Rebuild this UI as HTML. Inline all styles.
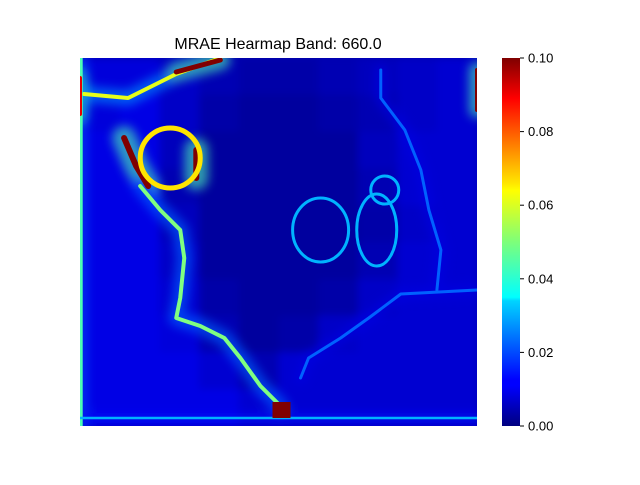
<!DOCTYPE html>
<html><head><meta charset="utf-8"><style>
body{margin:0;background:#fff;width:640px;height:480px;overflow:hidden;font-family:"Liberation Sans",sans-serif}
</style></head><body>
<svg id="chart" width="640" height="480">
<defs>
<filter id="soft"><feGaussianBlur stdDeviation="4"/></filter>
<filter id="glow"><feGaussianBlur stdDeviation="5"/></filter>
<clipPath id="clip"><rect x="80" y="58" width="397" height="368"/></clipPath>
<linearGradient id="jet" x1="0" y1="1" x2="0" y2="0">
<stop offset="0" stop-color="#00007f"/><stop offset="0.11" stop-color="#0000ff"/><stop offset="0.125" stop-color="#0000ff"/>
<stop offset="0.34" stop-color="#00d4ff"/><stop offset="0.35" stop-color="#0ff"/><stop offset="0.5" stop-color="#7dff7a"/>
<stop offset="0.64" stop-color="#ff0"/><stop offset="0.66" stop-color="#ffe600"/><stop offset="0.89" stop-color="#f00"/><stop offset="1" stop-color="#7f0000"/>
</linearGradient>
</defs>
<text x="278" y="49" text-anchor="middle" font-size="16">MRAE Hearmap Band: 660.0</text>
<g id="plot" clip-path="url(#clip)">
<rect x="80" y="58" width="397" height="368" fill="#0000b0"/>
<g id="bg" filter="url(#soft)"></g>
<g id="glows" filter="url(#glow)" opacity="0.6"></g>
<g id="curves"></g>
</g>
<rect x="502" y="58" width="18" height="368" fill="url(#jet)"/>
<g id="cbticks" font-size="13"></g>
</svg>
<script>
const bgGrid = [
[9,9,7,5,4,4,5,6,7,8],
[9,10,7,4,3,3,4,5,7,8],
[10,10,6,3,3,3,3,6,8,8],
[10,10,5,3,3,3,3,5,8,8],
[10,10,6,3,3,3,3,4,7,8],
[10,10,7,3,3,3,3,5,8,8],
[10,10,8,4,3,3,4,7,8,8],
[10,10,9,5,3,4,7,8,8,8],
[10,10,10,8,5,8,8,8,8,8],
[10,10,10,10,8,8,8,8,8,8]];
const curvePts = [
[[1,9],[12,10],[24,4],[35,0]],
[[24,3.5],[35,0.5]],
[[11,20],[14,27],[17,32]],
[[29,23],[29,30]],
[[15,32],[20,38],[25,43],[26,50],[25,60],[24,65],[30,67],[36,70],[40,75],[45,82],[50,87]],
[[0.3,0],[0.3,92]],
[[0,90],[99,90]],
[[0,5],[0,14]],
[[75,3],[75,10],[81,18],[85,28],[87,38],[90,48],[89,58]],
[[99,58],[80,59],[72,65],[65,70],[57,75],[55,80]],
[[99,3],[99,13]]];
const curveVals = [0.06,0.1,0.1,0.1,0.05,0.045,0.03,0.09,0.022,0.022,0.1];
const curveWidths = [4,5,6,6,4,3,2.5,4,3,3,4];
const rings = [[22.5,25,7.5,7.5],[60,43,7,8],[74,43,5,9],[76,33,3.5,3.5]];
const ringVals = [0.065,0.03,0.03,0.03];
const blobs = [[50,88]];
const blobVals = [0.1];
const cbTicks = [0,0.02,0.04,0.06,0.08,0.1];
const cbLabels = ["0.00","0.02","0.04","0.06","0.08","0.10"];

const NS="http://www.w3.org/2000/svg";
const x=c=>80+c*4.01, y=r=>58+r*4, vmax=0.1;
function jet(v){const t=Math.max(0,Math.min(1,v/vmax));const f=a=>Math.round(255*Math.max(0,Math.min(1,1.5-Math.abs(4*t-a))));return `rgb(${f(3)},${f(2)},${f(1)})`;}
const bg=document.getElementById('bg');
bgGrid.forEach((row,i)=>row.forEach((v,j)=>{const r=document.createElementNS(NS,'rect');
r.setAttribute('x',80+j*39.7);r.setAttribute('y',58+i*36.8);r.setAttribute('width',40.5);r.setAttribute('height',37.6);r.setAttribute('fill',jet(v/1000));


bg.appendChild(r);}));
const cg=document.getElementById('curves');
const gg=document.getElementById('glows');
curvePts.forEach((pts,i)=>{
[gg,cg].forEach((parent,k)=>{
const p=document.createElementNS(NS,'polyline');
p.setAttribute('points',pts.map(q=>x(q[0])+','+y(q[1])).join(' '));
p.setAttribute('fill','none');
p.setAttribute('stroke',k?jet(curveVals[i]):jet(curveVals[i]*0.45));
p.setAttribute('stroke-width',k?curveWidths[i]:curveWidths[i]*4);
p.setAttribute('stroke-linejoin','round');p.setAttribute('stroke-linecap','round');


parent.appendChild(p);});});
rings.forEach((q,i)=>{const e=document.createElementNS(NS,'ellipse');
e.setAttribute('cx',x(q[0]));e.setAttribute('cy',y(q[1]));e.setAttribute('rx',q[2]*4);e.setAttribute('ry',q[3]*4);
e.setAttribute('fill','none');e.setAttribute('stroke',jet(ringVals[i]));e.setAttribute('stroke-width',i?3:5);


cg.appendChild(e);});
blobs.forEach((q,i)=>{const r=document.createElementNS(NS,'rect');
r.setAttribute('x',x(q[0])-8);r.setAttribute('y',y(q[1])-8);r.setAttribute('width',18);r.setAttribute('height',16);r.setAttribute('fill',jet(blobVals[i]));


cg.appendChild(r);});
const tg=document.getElementById('cbticks');
cbTicks.forEach((v,i)=>{const yy=426-v/vmax*368;
const l=document.createElementNS(NS,'line');l.setAttribute('x1',520);l.setAttribute('x2',524);l.setAttribute('y1',yy);l.setAttribute('y2',yy);l.setAttribute('stroke','#000');


tg.appendChild(l);
const t=document.createElementNS(NS,'text');t.setAttribute('x',528);t.setAttribute('y',yy+4.5);t.textContent=cbLabels[i];


tg.appendChild(t);});
</script>
</body></html>
